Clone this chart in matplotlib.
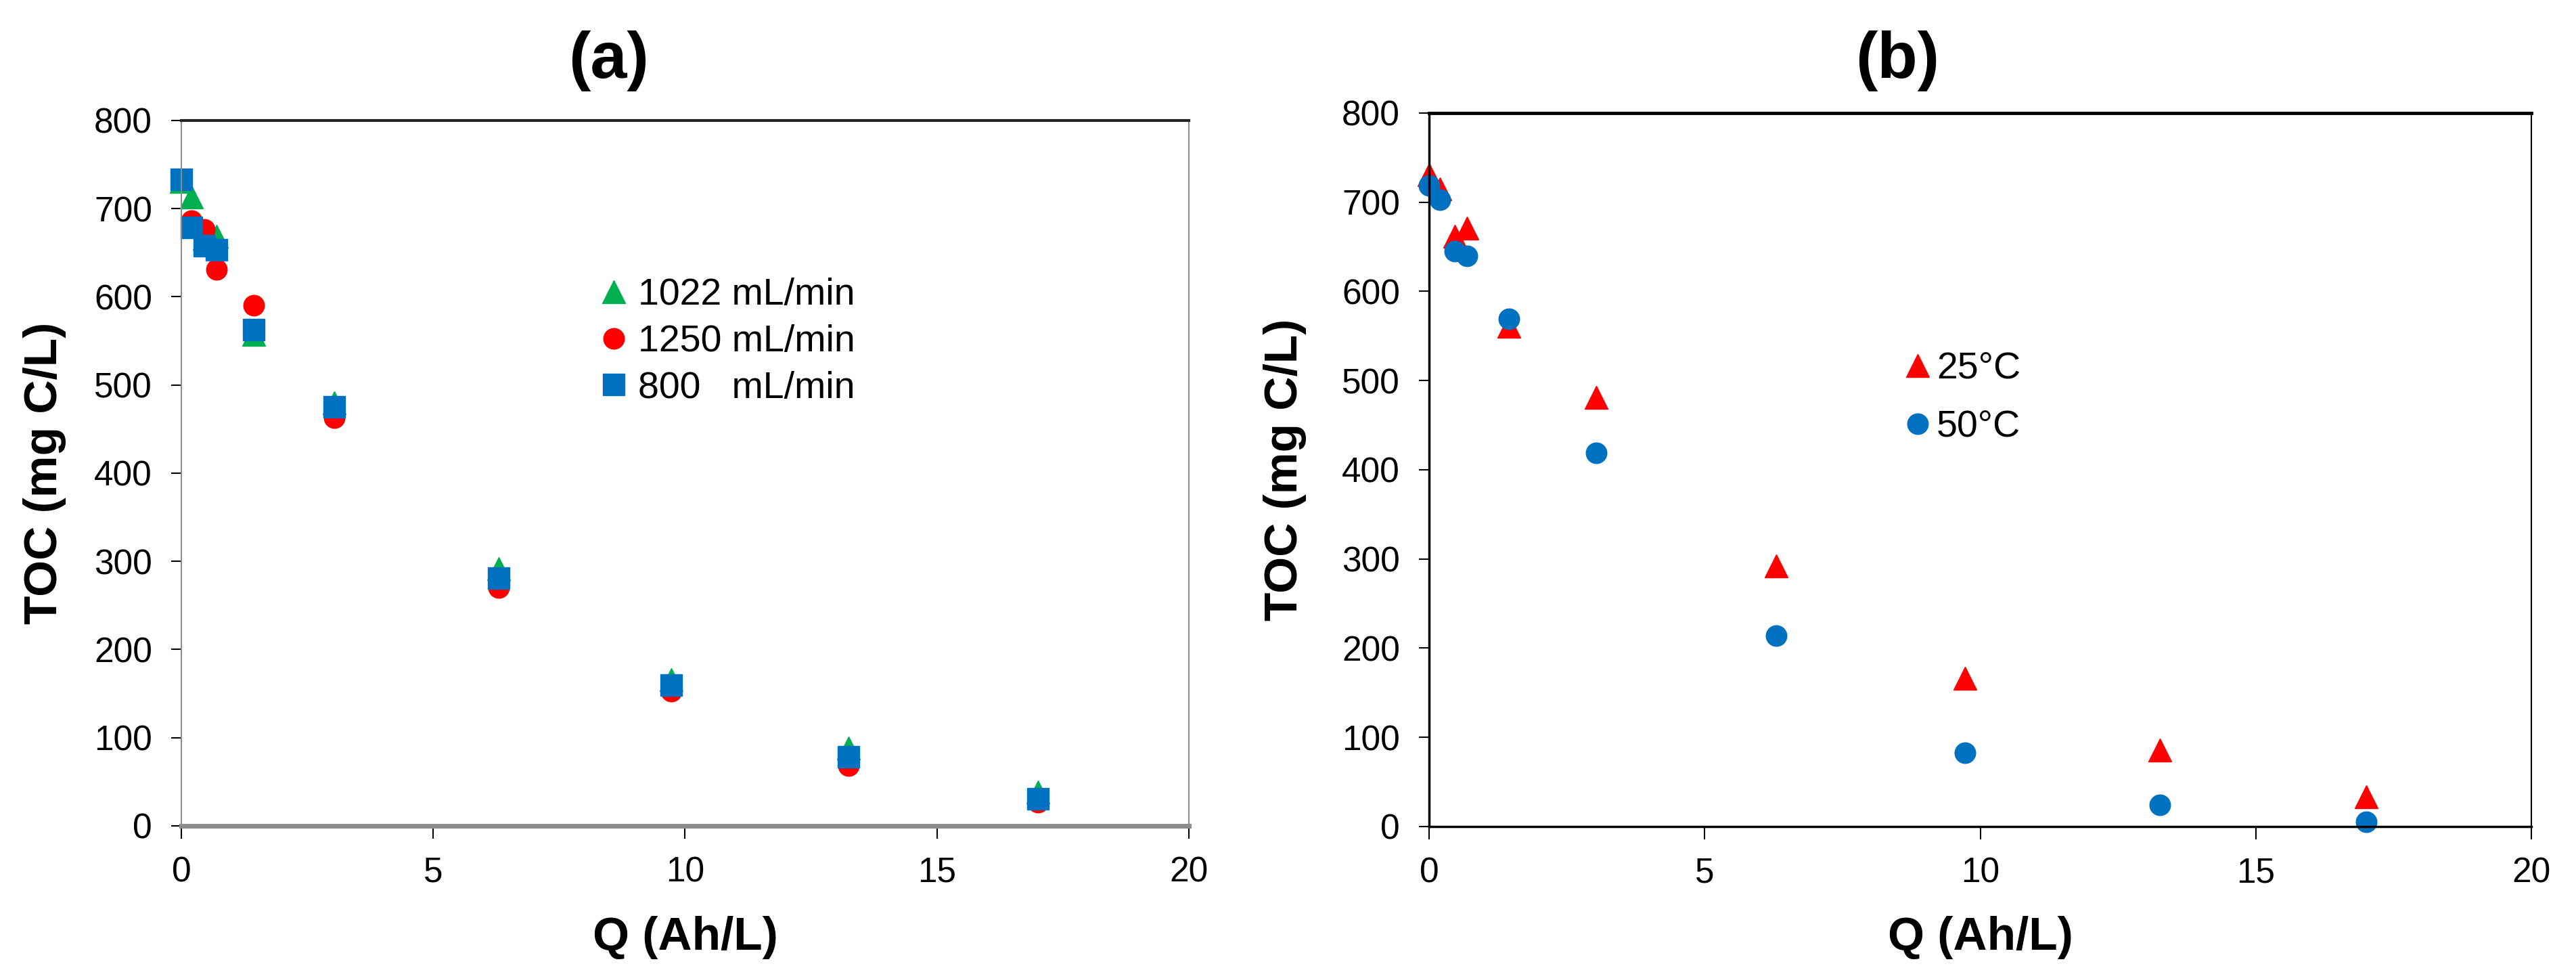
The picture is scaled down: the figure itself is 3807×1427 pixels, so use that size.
import matplotlib
matplotlib.use("Agg")
import matplotlib.pyplot as plt

plt.rcParams['font.family'] = ['Liberation Sans', 'DejaVu Sans']

# ----------------- Data -----------------
# (a) flow rate series
q_a = [0, 0.2, 0.46, 0.7, 1.44, 3.03, 6.3, 9.72, 13.25, 17.0]
toc_1022 = [731, 713, 666, 669, 557, 480, 292, 166, 88, 38]
toc_1250 = [733, 686, 676, 631, 590, 463, 270, 153, 68, 27]
toc_800 = [733, 679, 658, 653, 563, 475, 281, 160, 78, 31]

# (b) temperature series
q_b = [0, 0.2, 0.47, 0.69, 1.45, 3.03, 6.3, 9.72, 13.26, 17.0]
toc_25 = [731, 715, 662, 671, 561, 481, 292, 166, 86, 33]
toc_50 = [719, 703, 645, 640, 569, 419, 214, 83, 24, 5]

GREEN = '#00B050'
RED = '#FF0000'
BLUE = '#0070C0'

TICK_FS = 37
LEGEND_FS = 40
LABEL_FS = 50
TITLE_FS = 70

fig = plt.figure(figsize=(38.07, 14.27), dpi=100)
ax1 = fig.add_axes([0.0704, 0.1451, 0.3911, 0.7302])
ax2 = fig.add_axes([0.5548, 0.1444, 0.4279, 0.7386])

# ---------- panel (a) ----------
ax1.plot(q_a, toc_1022, linestyle='none', marker='^', ms=24, color=GREEN,
         label='1022 mL/min', clip_on=False)
ax1.plot(q_a, toc_1250, linestyle='none', marker='o', ms=22, color=RED,
         label='1250 mL/min', clip_on=False)
ax1.plot(q_a, toc_800, linestyle='none', marker='s', ms=23, color=BLUE,
         label='800   mL/min', clip_on=False)

for s in ['left', 'right']:
    ax1.spines[s].set_color('#8c8c8c')
    ax1.spines[s].set_linewidth(1.5)
ax1.spines['bottom'].set_color('#8c8c8c')
ax1.spines['bottom'].set_linewidth(5)
ax1.spines['top'].set_color('#222222')
ax1.spines['top'].set_linewidth(3)

ax1.legend(loc='center left', bbox_to_anchor=(0.418, 0.686), frameon=False,
           fontsize=LEGEND_FS, handlelength=0.6, handletextpad=0.35,
           labelspacing=0.3, borderpad=0, borderaxespad=0, numpoints=1)

# ---------- panel (b) ----------
ax2.plot(q_b, toc_25, linestyle='none', marker='^', ms=24, color=RED,
         label='25°C', clip_on=False)
ax2.plot(q_b, toc_50, linestyle='none', marker='o', ms=22, color=BLUE,
         label='50°C', clip_on=False)

for s in ['left', 'bottom']:
    ax2.spines[s].set_linewidth(2.5)
ax2.spines['top'].set_linewidth(3.5)
ax2.spines['right'].set_linewidth(1.5)

ax2.legend(loc='center left', bbox_to_anchor=(0.433, 0.60), frameon=False,
           fontsize=LEGEND_FS, handlelength=0.6, handletextpad=0.2,
           labelspacing=0.6, borderpad=0, borderaxespad=0, numpoints=1)

# ---------- shared formatting ----------
for ax, ylab_x, xlab_y in [(ax1, -0.114, -0.128), (ax2, -0.111, -0.125)]:
    ax.set_xlim(0, 20)
    ax.set_ylim(0, 800)
    ax.set_xticks([0, 5, 10, 15, 20])
    ax.set_yticks(range(0, 801, 100))
    ax.tick_params(axis='both', direction='out', labelsize=TICK_FS, width=1.5)
    ax.tick_params(axis='y', length=11, pad=20)
    ax.tick_params(axis='x', length=14, pad=18)
    ax.set_xlabel('Q (Ah/L)', fontsize=LABEL_FS, fontweight='bold')
    ax.set_ylabel('TOC (mg C/L)', fontsize=LABEL_FS, fontweight='bold')
    ax.yaxis.set_label_coords(ylab_x, 0.5)
    ax.xaxis.set_label_coords(0.5, xlab_y)

fig.text(900 / 3807, 1 - 90 / 1427, '(a)', fontsize=TITLE_FS, fontweight='bold',
         ha='center', va='center')
fig.text(2804 / 3807, 1 - 90 / 1427, '(b)', fontsize=TITLE_FS, fontweight='bold',
         ha='center', va='center')

fig.savefig('out.png', dpi=100)
